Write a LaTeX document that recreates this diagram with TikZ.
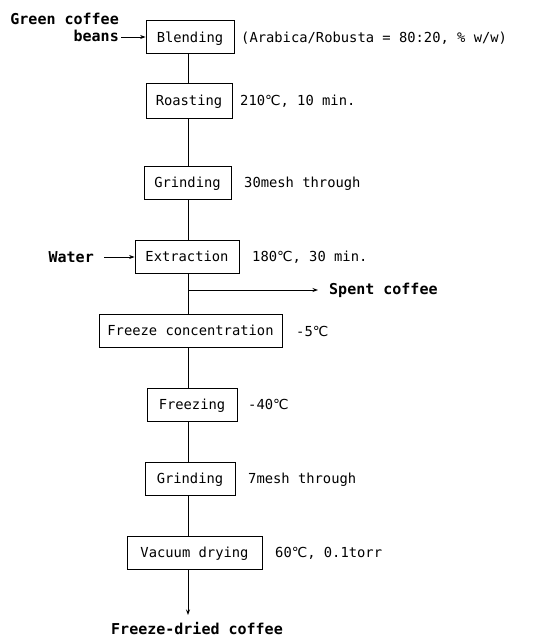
\documentclass[tikz,border=0pt]{standalone}
\usepackage{fontspec}
\setmonofont{DejaVu Sans Mono}
\newfontfamily\degfont{DejaVu Sans}
\usetikzlibrary{arrows.meta}
\newcommand{\dC}{{\degfont ℃}}
\begin{document}
\begin{tikzpicture}[x=1pt,y=-1pt,
  every node/.style={inner sep=0pt},
  box/.style={draw, line width=0.8pt, minimum height=33pt, text height=11pt, text depth=1pt, font=\ttfamily\fontsize{13.8}{15}\selectfont},
  note/.style={anchor=west, text height=11pt, text depth=1pt, font=\ttfamily\fontsize{13.8}{15}\selectfont},
  lbl/.style={font=\ttfamily\bfseries\fontsize{15}{17}\selectfont},
  flow/.style={line width=0.8pt},
  arr/.style={line width=0.8pt, -{Stealth[length=5.5pt,width=4pt]}}]
\useasboundingbox (0,0) rectangle (536,642);
\coordinate (sp) at (188,0);
% boxes
\node[box, minimum width=88pt] (bl) at (190,37) {Blending};
\node[box, minimum width=86pt, minimum height=35pt] (ro) at (189,100.5) {Roasting};
\node[box, minimum width=87pt] (gr1) at (187.5,182.5) {Grinding};
\node[box, minimum width=104pt] (ex) at (187,256.5) {Extraction};
\node[box, minimum width=183pt] (fc) at (190.5,330.5) {Freeze concentration};
\node[box, minimum width=90pt] (fz) at (192,404.5) {Freezing};
\node[box, minimum width=90pt] (gr2) at (190,478.5) {Grinding};
\node[box, minimum width=135pt] (vd) at (194.5,552.5) {Vacuum drying};
% notes
\node[note] (n1) at (241,37) {(Arabica/Robusta = 80:20, \% w/w)};
\node[note] (n2) at (240,100.5) {210\dC, 10 min.};
\node[note] (n3) at (244,182.5) {30mesh through};
\node[note] (n4) at (252,256.5) {180\dC, 30 min.};
\node[note] (n5) at (296,331) {-5\dC};
\node[note] (n6) at (248,404.5) {-40\dC};
\node[note] (n7) at (248,478.5) {7mesh through};
\node[note] (n8) at (275,552.5) {60\dC, 0.1torr};
% side labels
\node[lbl, align=right, anchor=east] (gc) at (119,27) {Green coffee\\beans};
\coordinate (gcs) at (121,37);
\node[lbl, anchor=east] (wa) at (94,257) {Water};
\coordinate (was) at (104,257);
\node[lbl, anchor=west] (spc) at (329,290) {Spent coffee};
\coordinate (br) at (188,290);
\node[lbl] (out) at (197,628) {Freeze-dried coffee};
\coordinate (oute) at (188,615);
% connectors
\draw[arr] (gcs) -- (bl.west |- gcs);
\draw[arr] (was) -- (ex.west |- was);
\draw[flow] (bl.south -| sp) -- (ro.north -| sp);
\draw[flow] (ro.south -| sp) -- (gr1.north -| sp);
\draw[flow] (gr1.south -| sp) -- (ex.north -| sp);
\draw[flow] (ex.south -| sp) -- (fc.north -| sp);
\draw[arr] (br) -- (spc.west -| 318,0);
\draw[flow] (fc.south -| sp) -- (fz.north -| sp);
\draw[flow] (fz.south -| sp) -- (gr2.north -| sp);
\draw[flow] (gr2.south -| sp) -- (vd.north -| sp);
\draw[arr] (vd.south -| oute) -- (oute);
\end{tikzpicture}
\end{document}
